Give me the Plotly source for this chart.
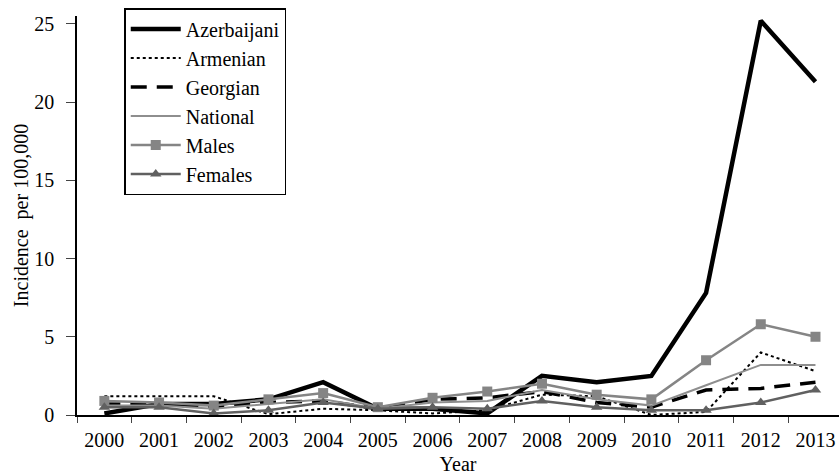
import plotly.graph_objects as go

years = [str(y) for y in range(2000, 2014)]
azerbaijani = [0.1, 0.7, 0.7, 1.0, 2.1, 0.4, 0.4, 0.1, 2.5, 2.1, 2.5, 7.8, 25.2, 21.3]
armenian = [1.2, 1.2, 1.2, 0.05, 0.4, 0.3, 0.1, 0.3, 1.3, 1.2, 0.0, 0.2, 4.0, 2.8]
georgian = [0.7, 0.7, 0.5, 0.8, 0.9, 0.4, 1.0, 1.1, 1.5, 0.8, 0.5, 1.6, 1.7, 2.1]
national = [0.6, 0.6, 0.4, 0.7, 1.0, 0.4, 0.8, 0.9, 1.6, 1.0, 0.6, 1.9, 3.2, 3.2]
males = [0.9, 0.8, 0.6, 1.0, 1.4, 0.5, 1.1, 1.5, 2.0, 1.3, 1.0, 3.5, 5.8, 5.0]
females = [0.5, 0.5, 0.1, 0.3, 0.8, 0.4, 0.5, 0.4, 0.9, 0.5, 0.3, 0.3, 0.8, 1.6]

font = "Liberation Serif"

fig = go.Figure()
fig.add_trace(go.Scatter(x=years, y=azerbaijani, name="Azerbaijani", mode="lines",
                         line=dict(color="black", width=4.5)))
fig.add_trace(go.Scatter(x=years, y=armenian, name="Armenian", mode="lines",
                         line=dict(color="black", width=2, dash="dot")))
fig.add_trace(go.Scatter(x=years, y=georgian, name="Georgian", mode="lines",
                         line=dict(color="black", width=3.5, dash="16px,10px")))
fig.add_trace(go.Scatter(x=years, y=national, name="National", mode="lines",
                         line=dict(color="#8e8e8e", width=2)))
fig.add_trace(go.Scatter(x=years, y=males, name="Males", mode="lines+markers",
                         line=dict(color="#858585", width=2.5),
                         marker=dict(symbol="square", size=10, color="#858585")))
fig.add_trace(go.Scatter(x=years, y=females, name="Females", mode="lines+markers",
                         line=dict(color="#606060", width=2.5),
                         marker=dict(symbol="triangle-up", size=10, color="#606060")))

fig.update_layout(
    width=839, height=475,
    margin=dict(l=77, r=0, t=16, b=60),
    paper_bgcolor="white", plot_bgcolor="white",
    font=dict(family=font, size=20, color="black"),
    showlegend=True,
    legend=dict(x=0.062, y=1.02, xanchor="left", yanchor="top",
                bordercolor="black", borderwidth=1.5, bgcolor="white",
                font=dict(family=font, size=20, color="black"), tracegroupgap=0,
                itemwidth=50),
    xaxis=dict(type="category", tickson="boundaries", ticks="outside", ticklen=6,
               range=[-0.5, 13.43], automargin=False, ticklabelstandoff=6,
               showline=True, linecolor="black", linewidth=1.5, showgrid=False,
               tickfont=dict(family=font, size=20),
               title=dict(text="Year", font=dict(family=font, size=20), standoff=12)),
    yaxis=dict(range=[0, 25.5], tickvals=[0, 5, 10, 15, 20, 25], ticks="outside", ticklen=9,
               automargin=False, ticklabelstandoff=8,
               showline=True, linecolor="black", linewidth=1.5, showgrid=False, zeroline=False,
               tickfont=dict(family=font, size=20),
               title=dict(text="Incidence  per 100,000", font=dict(family=font, size=20), standoff=0)),
)

fig.write_html("out.html", config={"displayModeBar": False},
               post_script="document.body.style.margin='0';document.body.style.overflow='hidden';")
